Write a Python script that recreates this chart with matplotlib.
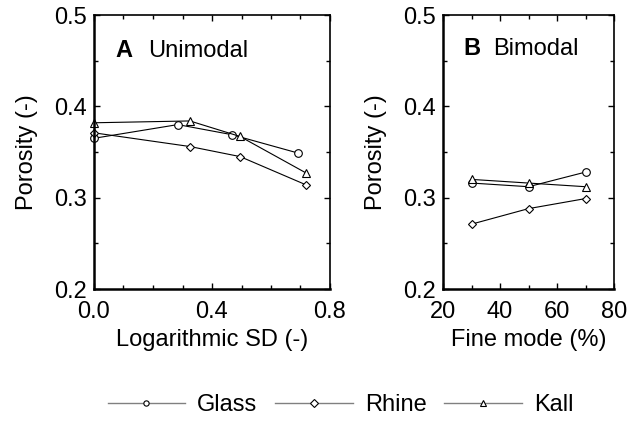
import numpy as np
import matplotlib.pyplot as plt
from matplotlib.ticker import MultipleLocator, FuncFormatter
from matplotlib.lines import Line2D

plt.rcParams['font.family'] = ['Liberation Sans', 'DejaVu Sans']

# panel A: unimodal
sd_glass = [0.0, 0.284, 0.467, 0.690]
por_glass_a = [0.365, 0.380, 0.369, 0.349]
sd_rhine = [0.0, 0.325, 0.495, 0.719]
por_rhine_a = [0.371, 0.356, 0.345, 0.314]
sd_kall = [0.0, 0.325, 0.495, 0.719]
por_kall_a = [0.382, 0.384, 0.367, 0.327]

# panel B: bimodal
fine = [30, 50, 70]
por_glass_b = [0.316, 0.312, 0.328]
por_rhine_b = [0.271, 0.288, 0.299]
por_kall_b = [0.320, 0.316, 0.312]

names = ['Glass', 'Rhine', 'Kall']
markers = ['o', 'D', '^']
msizes = [5.5, 4.2, 5.5]

fig = plt.figure(figsize=(6.33, 4.25), dpi=100)
axA = fig.add_axes([94/633, 1 - 289/425, 236/633, 274/425])
axB = fig.add_axes([443/633, 1 - 289/425, 171/633, 274/425])

seriesA = [(sd_glass, por_glass_a), (sd_rhine, por_rhine_a), (sd_kall, por_kall_a)]
for (x, y), m, ms in zip(seriesA, markers, msizes):
    axA.plot(x, y, color='black', lw=0.8, marker=m, ms=ms,
             mfc='white', mec='black', mew=0.8, clip_on=False)

seriesB = [por_glass_b, por_rhine_b, por_kall_b]
for y, m, ms in zip(seriesB, markers, msizes):
    axB.plot(fine, y, color='black', lw=0.8, marker=m, ms=ms,
             mfc='white', mec='black', mew=0.8)

axA.set_xlim(0, 0.8)
axA.xaxis.set_major_locator(MultipleLocator(0.4))
axA.xaxis.set_minor_locator(MultipleLocator(0.1))
axA.xaxis.set_major_formatter(FuncFormatter(lambda v, p: '%.1f' % v))
axB.set_xlim(20, 80)
axB.xaxis.set_major_locator(MultipleLocator(20))
axB.xaxis.set_minor_locator(MultipleLocator(10))

panels = [(axA, 'A', 'Unimodal', 'Logarithmic SD (-)', 0.089, 0.229, 0.847),
          (axB, 'B', 'Bimodal', 'Fine mode (%)', 0.117, 0.292, 0.855)]
for ax, lab, title, xl, xa, xt, yb in panels:
    ax.set_ylim(0.2, 0.5)
    ax.yaxis.set_major_locator(MultipleLocator(0.1))
    ax.yaxis.set_minor_locator(MultipleLocator(0.05))
    ax.yaxis.set_major_formatter(FuncFormatter(lambda v, p: '%.1f' % v))
    ax.tick_params(which='both', direction='in', top=True, right=True,
                   labelsize=17)
    ax.tick_params(axis='x', which='major', pad=9)
    ax.tick_params(axis='y', which='major', pad=5)
    ax.tick_params(which='major', length=4, width=1)
    ax.tick_params(which='minor', length=3, width=1)
    for side, s in ax.spines.items():
        s.set_linewidth(1.8 if side in ('left', 'bottom') else 1.2)
    ax.set_ylabel('Porosity (-)', fontsize=17, labelpad=12)
    ax.set_xlabel(xl, fontsize=17, labelpad=4)
    ax.text(xa, yb, lab, transform=ax.transAxes, fontsize=17,
            fontweight='bold', va='baseline')
    ax.text(xt, yb, title, transform=ax.transAxes, fontsize=17,
            va='baseline')

handles = [Line2D([], [], color='gray', lw=1, marker=m, ms=3.8,
                  mfc='white', mec='black', mew=0.8) for m in markers]
fig.legend(handles, names, loc='center', bbox_to_anchor=(0.538, 0.047),
           ncol=3, frameon=False, fontsize=17, handlelength=3.3,
           handletextpad=0.5, columnspacing=0.75, borderpad=0)

fig.savefig('out.png', dpi=100)
